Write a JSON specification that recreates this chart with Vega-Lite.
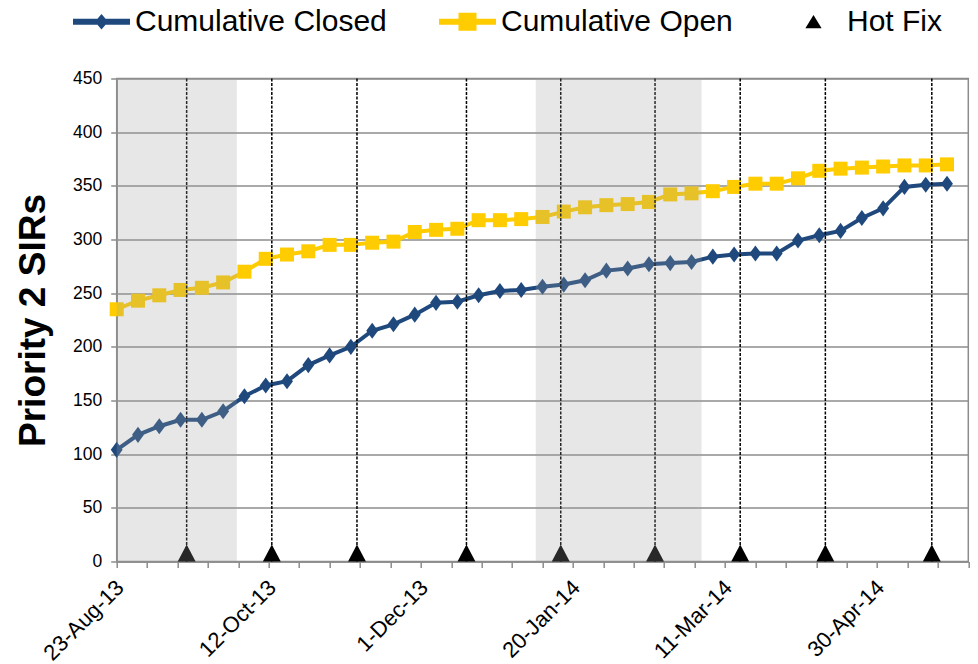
{
  "$schema": "https://vega.github.io/schema/vega-lite/v6.json",
  "autosize": {"type": "none"},
  "width": 851.6,
  "height": 483,
  "padding": {"left": 116.7, "top": 78.5, "right": 9.7, "bottom": 102.5},
  "background": "white",
  "config": {
    "view": {"stroke": "#8c8c8c", "strokeWidth": 1.5},
    "font": "Liberation Sans"
  },
  "datasets": {
    "weekly": [
      {"date": "2013-08-23", "closed": 104, "open": 235},
      {"date": "2013-08-30", "closed": 118, "open": 243},
      {"date": "2013-09-06", "closed": 126, "open": 248},
      {"date": "2013-09-13", "closed": 132, "open": 253},
      {"date": "2013-09-20", "closed": 132, "open": 255},
      {"date": "2013-09-27", "closed": 140, "open": 260},
      {"date": "2013-10-04", "closed": 154, "open": 270},
      {"date": "2013-10-11", "closed": 164, "open": 282},
      {"date": "2013-10-18", "closed": 168, "open": 286},
      {"date": "2013-10-25", "closed": 183, "open": 289},
      {"date": "2013-11-01", "closed": 192, "open": 295},
      {"date": "2013-11-08", "closed": 200, "open": 295},
      {"date": "2013-11-15", "closed": 215, "open": 297},
      {"date": "2013-11-22", "closed": 221, "open": 298},
      {"date": "2013-11-29", "closed": 230, "open": 307},
      {"date": "2013-12-06", "closed": 241, "open": 309},
      {"date": "2013-12-13", "closed": 242, "open": 310},
      {"date": "2013-12-20", "closed": 248, "open": 318},
      {"date": "2013-12-27", "closed": 252, "open": 318},
      {"date": "2014-01-03", "closed": 253, "open": 319},
      {"date": "2014-01-10", "closed": 256, "open": 321},
      {"date": "2014-01-17", "closed": 258, "open": 326},
      {"date": "2014-01-24", "closed": 262, "open": 330},
      {"date": "2014-01-31", "closed": 271, "open": 332},
      {"date": "2014-02-07", "closed": 273, "open": 333},
      {"date": "2014-02-14", "closed": 277, "open": 335},
      {"date": "2014-02-21", "closed": 278, "open": 342},
      {"date": "2014-02-28", "closed": 279, "open": 343},
      {"date": "2014-03-07", "closed": 284, "open": 345},
      {"date": "2014-03-14", "closed": 286, "open": 349},
      {"date": "2014-03-21", "closed": 287, "open": 352},
      {"date": "2014-03-28", "closed": 287, "open": 352},
      {"date": "2014-04-04", "closed": 299, "open": 357},
      {"date": "2014-04-11", "closed": 304, "open": 364},
      {"date": "2014-04-18", "closed": 308, "open": 366},
      {"date": "2014-04-25", "closed": 320, "open": 367},
      {"date": "2014-05-02", "closed": 329, "open": 368},
      {"date": "2014-05-09", "closed": 349, "open": 369},
      {"date": "2014-05-16", "closed": 351, "open": 369},
      {"date": "2014-05-23", "closed": 352, "open": 370}
    ],
    "hotfix": [
      {"date": "2013-09-15"},
      {"date": "2013-10-13"},
      {"date": "2013-11-10"},
      {"date": "2013-12-16"},
      {"date": "2014-01-16"},
      {"date": "2014-02-16"},
      {"date": "2014-03-16"},
      {"date": "2014-04-13"},
      {"date": "2014-05-18"}
    ],
    "shade": [
      {"start": "2013-08-23", "end": "2013-10-01T12:00:00Z"},
      {"start": "2014-01-07T19:00:00Z", "end": "2014-03-03T07:00:00Z"}
    ],
    "legend": [
      {"series": "Cumulative Closed"},
      {"series": "Cumulative Open"},
      {"series": "Hot Fix"}
    ]
  },
  "encoding": {
    "x": {
      "field": "date",
      "type": "temporal",
      "scale": {"type": "utc", "domain": [1377216000000, 1401408000000]},
      "axis": {
        "title": null,
        "grid": false,
        "values": [1377216000000, 1378080000000, 1378944000000, 1379808000000, 1380672000000, 1381536000000, 1382400000000, 1383264000000, 1384128000000, 1384992000000, 1385856000000, 1386720000000, 1387584000000, 1388448000000, 1389312000000, 1390176000000, 1391040000000, 1391904000000, 1392768000000, 1393632000000, 1394496000000, 1395360000000, 1396224000000, 1397088000000, 1397952000000, 1398816000000, 1399680000000, 1400544000000, 1401408000000],
        "labelExpr": "round((datum.value - 1377216000000) / 86400000) % 50 == 0 ? utcFormat(datum.value, '%-d-%b-%y') : ''",
        "labelAngle": -45,
        "labelAlign": "right",
        "labelBaseline": "top",
        "labelFont": "Liberation Sans",
        "labelFontSize": 22,
        "labelColor": "black",
        "labelPadding": 9,
        "labelOffset": -4,
        "labelOverlap": false,
        "labelBound": false,
        "labelFlush": false,
        "domainColor": "#8c8c8c",
        "domainWidth": 1.5,
        "tickColor": "#8c8c8c",
        "tickWidth": 1.5,
        "tickSize": 6
      }
    }
  },
  "layer": [
    {
      "data": {"name": "weekly"},
      "mark": {"type": "line", "color": "#1F497D", "strokeWidth": 4},
      "encoding": {
        "y": {
          "field": "closed",
          "type": "quantitative",
          "scale": {"domain": [0, 450], "nice": false},
          "axis": {
            "title": "Priority 2 SIRs",
            "titleFont": "Liberation Sans",
            "titleFontWeight": "bold",
            "titleFontSize": 37,
            "titleColor": "black",
            "titlePadding": 20,
            "values": [0, 50, 100, 150, 200, 250, 300, 350, 400, 450],
            "labelFont": "Liberation Sans",
            "labelFontSize": 17.5,
            "labelColor": "black",
            "labelPadding": 9,
            "tickSize": 6,
            "tickColor": "#8c8c8c",
            "tickWidth": 1.5,
            "domainColor": "#8c8c8c",
            "domainWidth": 1.5,
            "gridColor": "#8c8c8c",
            "gridWidth": 1.5
          }
        }
      }
    },
    {
      "data": {"name": "weekly"},
      "mark": {"type": "point", "filled": true, "opacity": 1, "color": "#1F497D", "shape": "M0,-1.15L0.85,0L0,1.15L-0.85,0Z", "size": 196},
      "encoding": {"y": {"field": "closed", "type": "quantitative"}}
    },
    {
      "data": {"name": "weekly"},
      "mark": {"type": "line", "color": "#FFCC00", "strokeWidth": 4},
      "encoding": {"y": {"field": "open", "type": "quantitative"}}
    },
    {
      "data": {"name": "weekly"},
      "mark": {"type": "point", "filled": true, "opacity": 1, "color": "#FFCC00", "shape": "square", "size": 196},
      "encoding": {"y": {"field": "open", "type": "quantitative"}}
    },
    {
      "data": {"name": "hotfix"},
      "mark": {"type": "rule", "color": "black", "strokeWidth": 1.5, "strokeDash": [3, 1.5]},
      "encoding": {}
    },
    {
      "data": {"name": "hotfix"},
      "mark": {"type": "point", "filled": true, "opacity": 1, "color": "black", "shape": "M0,-1.9L1,0L-1,0Z", "size": 320},
      "encoding": {"y": {"datum": 0, "type": "quantitative"}}
    },
    {
      "data": {"name": "shade"},
      "mark": {"type": "rect", "color": "#a0a0a0", "opacity": 0.25},
      "encoding": {
        "x": {"field": "start", "type": "temporal"},
        "x2": {"field": "end"}
      }
    },
    {
      "data": {"name": "legend"},
      "mark": {"type": "point", "filled": true, "opacity": 0},
      "encoding": {
        "x": null,
        "color": {
          "field": "series",
          "type": "nominal",
          "scale": {"domain": ["Cumulative Closed", "Cumulative Open", "Hot Fix"], "range": ["#1F497D", "#FFCC00", "#000000"]},
          "legend": {
            "title": null,
            "orient": "none",
            "legendX": -45.2,
            "legendY": -86.8,
            "direction": "horizontal",
            "symbolSize": 3600,
            "symbolOpacity": 1,
            "symbolStrokeWidth": 0,
            "labelFont": "Liberation Sans",
            "labelFontSize": 30,
            "labelColor": "black",
            "labelLimit": 600,
            "labelOffset": 3.5,
            "columnPadding": 50,
            "padding": 0
          }
        },
        "shape": {
          "field": "series",
          "type": "nominal",
          "scale": {"domain": ["Cumulative Closed", "Cumulative Open", "Hot Fix"], "range": ["M-0.95,-0.1H0.95V0.1H-0.95Z M0,-0.26L0.22,0L0,0.26L-0.22,0Z", "M-0.95,-0.1H0.95V0.1H-0.95Z M-0.3,-0.3H0.3V0.3H-0.3Z", "M0.0,-0.22L0.27,0.22L-0.27,0.22Z"]},
          "legend": {
            "title": null,
            "orient": "none",
            "legendX": -45.2,
            "legendY": -86.8,
            "direction": "horizontal",
            "symbolSize": 3600,
            "symbolOpacity": 1,
            "symbolStrokeWidth": 0,
            "labelFont": "Liberation Sans",
            "labelFontSize": 30,
            "labelColor": "black",
            "labelLimit": 600,
            "labelOffset": 3.5,
            "columnPadding": 50,
            "padding": 0
          }
        }
      }
    }
  ]
}
